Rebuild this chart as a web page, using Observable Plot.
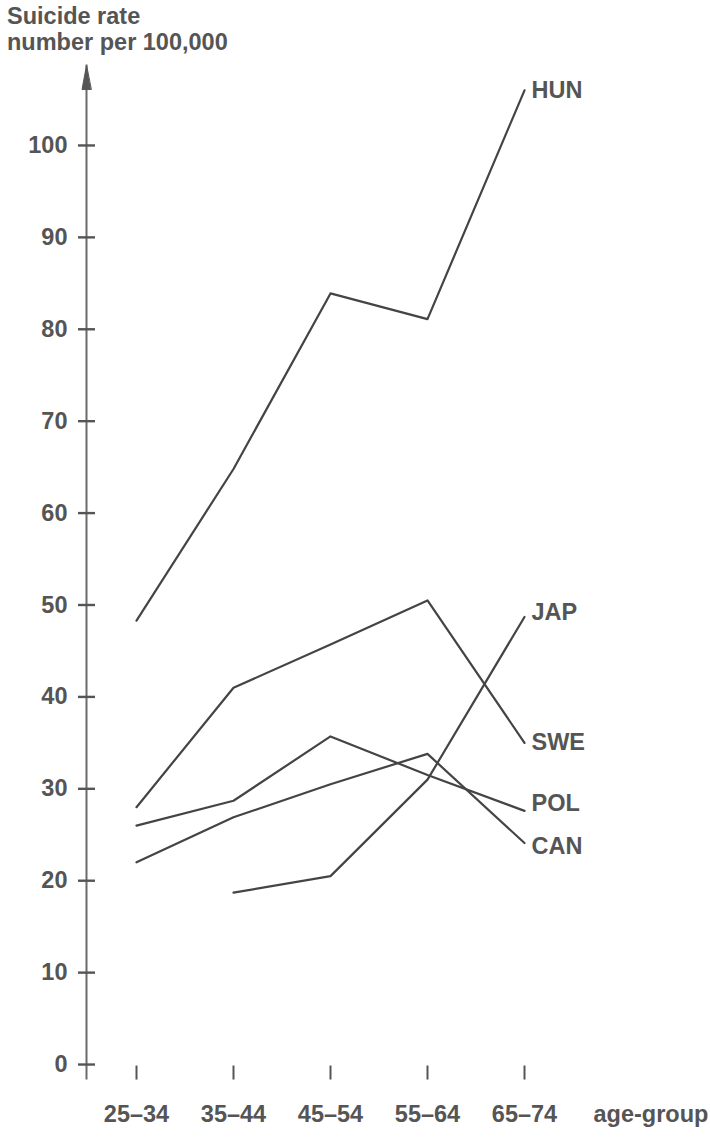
<!DOCTYPE html>
<html>
<head>
<meta charset="utf-8">
<script src="https://cdn.jsdelivr.net/npm/d3@7"></script>
<script src="https://cdn.jsdelivr.net/npm/@observablehq/plot@0.6"></script>
<style>
  body { margin: 0; background: #fff; }
  #title { font-family: "Liberation Sans", Arial, sans-serif; font-weight: bold; font-size: 23.5px;
           color: #555; line-height: 26px; padding: 3px 0 0 7px; height: 52px; }
  #chart svg { display: block; }
</style>
</head>
<body>
<div id="title">Suicide rate<br>number per 100,000</div>
<div id="chart"></div>
<script>
const ageGroups = ["25–34", "35–44", "45–54", "55–64", "65–74"];
const yTicks = [0, 10, 20, 30, 40, 50, 60, 70, 80, 90, 100];
const countries = ["HUN", "SWE", "POL", "CAN", "JAP"];
const HUN = [48.3, 64.8, 83.9, 81.1, 106.0];
const SWE = [28.0, 41.0, 45.7, 50.5, 35.0];
const POL = [26.0, 28.7, 35.7, 31.5, 27.6];
const CAN = [22.0, 26.9, 30.5, 33.8, 24.1];
const JAP = [null, 18.7, 20.5, 31.0, 48.7];
const seriesValues = {HUN, SWE, POL, CAN, JAP};

const rows = countries.flatMap(c =>
  seriesValues[c].map((v, i) => ({country: c, age: ageGroups[i], rate: v}))
).filter(d => d.rate != null);
const lastPoints = countries.map(c => rows.filter(d => d.country === c).at(-1));

const font = {fontFamily: "Liberation Sans, Arial, sans-serif", fontWeight: "bold", fontSize: 23.5};
const ink = "#555";

const lineShape = {draw(ctx, l) { ctx.moveTo(0, 0); ctx.lineTo(0, -l); }};
const headShape = {draw(ctx, l) { ctx.moveTo(0, 0); ctx.lineTo(-4.5, l); ctx.lineTo(4.5, l); ctx.closePath(); }};

const labelDy = {HUN: 0, JAP: -4, SWE: 0, POL: -7, CAN: 3};
const labelMarks = countries.map(c =>
  Plot.text(lastPoints.filter(d => d.country === c), {x: "age", y: "rate", text: "country", textAnchor: "start", dx: 7, dy: labelDy[c], ...font, fill: ink})
);

const chart = Plot.plot({
  width: 710,
  height: 1084,
  marginLeft: 86,
  marginRight: 136,
  marginTop: 10,
  marginBottom: 61,
  x: {type: "point", domain: ageGroups, padding: 0.49},
  y: {domain: [-1.52, 108.7]},
  style: {color: ink, background: "#fff"},
  marks: [
    Plot.frame({anchor: "left", stroke: "#6a6a6a", strokeWidth: 2}),
    Plot.vector([0], {frameAnchor: "top-left", length: 24, rotate: 0, anchor: "start", shape: headShape, fill: "#555", stroke: "#555", strokeWidth: 1}),
    Plot.vector(yTicks, {y: d => d, frameAnchor: "left", rotate: 90, length: 17, anchor: "middle", shape: lineShape, stroke: "#555", strokeWidth: 2.4, strokeLinecap: "butt"}),
    Plot.axisY(yTicks, {anchor: "left", tickSize: 0, tickPadding: 19, label: null, ...font, fill: ink}),
    Plot.vector(ageGroups, {x: d => d, y: () => 0, rotate: 0, length: 14, anchor: "middle", dy: 8, shape: lineShape, stroke: "#555", strokeWidth: 2, strokeLinecap: "butt"}),
    Plot.axisX({anchor: "bottom", tickSize: 0, tickPadding: 27, label: null, ...font, fill: ink}),
    Plot.text(["age-group"], {frameAnchor: "bottom-right", textAnchor: "start", lineAnchor: "top", dx: 19, dy: 27, ...font, fill: ink}),
    Plot.line(rows, {x: "age", y: "rate", z: "country", stroke: "#444", strokeWidth: 2.2, strokeLinejoin: "round"}),
    ...labelMarks
  ]
});
document.getElementById("chart").appendChild(chart);
</script>
</body>
</html>
